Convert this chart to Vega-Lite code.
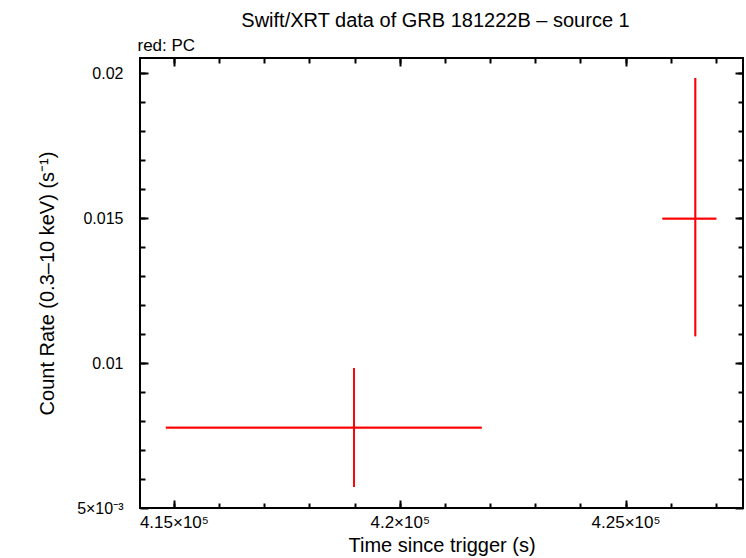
{
  "$schema": "https://vega.github.io/schema/vega-lite/v6.json",
  "width": 603,
  "height": 450,
  "autosize": {"type": "none"},
  "padding": {"left": 140, "top": 58, "right": 3, "bottom": 50},
  "title": {"text": "Swift/XRT data of GRB 181222B – source 1", "anchor": "middle", "fontSize": 20, "fontWeight": "normal", "font": "Liberation Sans", "color": "black", "offset": 5, "dx": -6},
  "data": {"values": [
    {"t": 418989, "t_lo": 414823, "t_hi": 421815, "rate": 0.00777, "r_lo": 0.005724, "r_hi": 0.00983},
    {"t": 426545, "t_lo": 425817, "t_hi": 427009, "rate": 0.01498, "r_lo": 0.01092, "r_hi": 0.01983}
  ]},
  "config": {
    "view": {"stroke": "black", "strokeWidth": 2},
    "axis": {"domain": false, "grid": false, "labelFont": "Liberation Sans", "titleFont": "Liberation Sans", "labelFontSize": 16, "titleFontSize": 20, "labelColor": "black", "titleColor": "black", "tickColor": "black", "tickWidth": 2, "titleFontWeight": "normal"}
  },
  "resolve": {"axis": {"x": "independent", "y": "independent"}},
  "layer": [
    {
      "mark": {"type": "rule", "color": "#ff0000", "strokeWidth": 1.7},
      "encoding": {
        "x": {"field": "t_lo", "type": "quantitative", "scale": {"domain": [414250, 427600], "nice": false, "zero": false},
              "axis": {"orient": "bottom", "values": [415000, 420000, 425000], "tickSize": -8, "labelPadding": 14, "labelFontSize": 17, "labelExpr": "datum.value == 415000 ? '4.15×10⁵' : datum.value == 420000 ? '4.2×10⁵' : '4.25×10⁵'", "title": "Time since trigger (s)", "titlePadding": 5}},
        "x2": {"field": "t_hi"},
        "y": {"field": "rate", "type": "quantitative", "scale": {"domain": [0.005, 0.02052], "nice": false, "zero": false},
              "axis": {"orient": "left", "values": [0.005, 0.01, 0.015, 0.02], "tickSize": -8, "labelPadding": 25, "labelExpr": "datum.value == 0.005 ? '5×10⁻³' : format(datum.value, '.3~f')", "title": "Count Rate (0.3–10 keV) (s⁻¹)", "titlePadding": 19}}
      }
    },
    {
      "mark": {"type": "rule", "color": "#ff0000", "strokeWidth": 1.7},
      "encoding": {
        "x": {"field": "t", "type": "quantitative",
              "axis": {"orient": "bottom", "values": [415000, 416000, 417000, 418000, 419000, 420000, 421000, 422000, 423000, 424000, 425000, 426000, 427000], "tickSize": -5, "labels": false, "title": null}},
        "y": {"field": "r_lo", "type": "quantitative",
              "axis": {"orient": "left", "values": [0.006, 0.007, 0.008, 0.009, 0.01, 0.011, 0.012, 0.013, 0.014, 0.015, 0.016, 0.017, 0.018, 0.019, 0.02], "tickSize": -5, "labels": false, "title": null}},
        "y2": {"field": "r_hi"}
      }
    },
    {
      "mark": {"type": "rule", "color": "#ff0000", "strokeWidth": 1.7},
      "encoding": {
        "x": {"field": "t_lo", "type": "quantitative",
              "axis": {"orient": "top", "values": [415000, 420000, 425000], "tickSize": -8, "labels": false, "title": "red: PC", "titleAnchor": "start", "titleAlign": "left", "titleX": -3, "titleY": -13, "titleBaseline": "middle", "titleFontSize": 17}},
        "x2": {"field": "t_hi"},
        "y": {"field": "rate", "type": "quantitative",
              "axis": {"orient": "right", "values": [0.005, 0.01, 0.015, 0.02], "tickSize": -8, "labels": false, "title": null}}
      }
    },
    {
      "mark": {"type": "rule", "color": "#ff0000", "strokeWidth": 1.7},
      "encoding": {
        "x": {"field": "t", "type": "quantitative",
              "axis": {"orient": "top", "values": [415000, 416000, 417000, 418000, 419000, 420000, 421000, 422000, 423000, 424000, 425000, 426000, 427000], "tickSize": -5, "labels": false, "title": null}},
        "y": {"field": "r_lo", "type": "quantitative",
              "axis": {"orient": "right", "values": [0.006, 0.007, 0.008, 0.009, 0.01, 0.011, 0.012, 0.013, 0.014, 0.015, 0.016, 0.017, 0.018, 0.019, 0.02], "tickSize": -5, "labels": false, "title": null}},
        "y2": {"field": "r_hi"}
      }
    }
  ]
}
